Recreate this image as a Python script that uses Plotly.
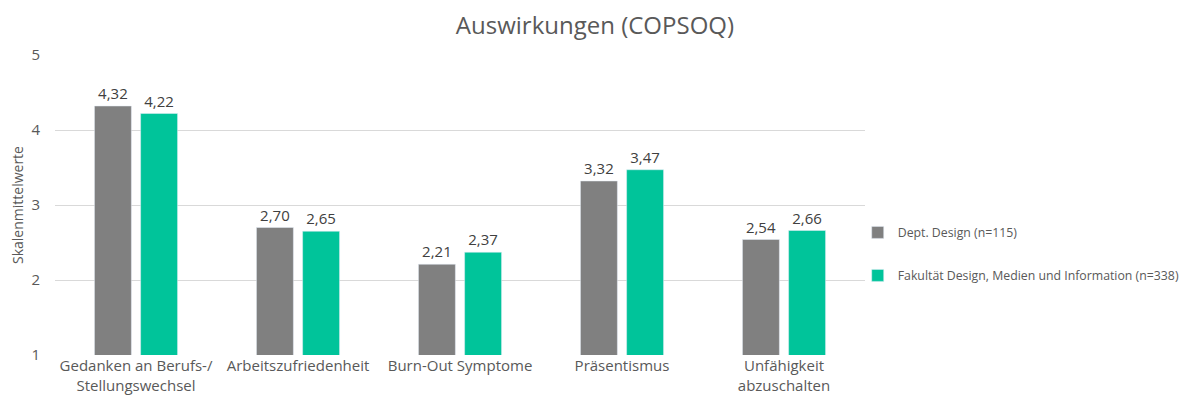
import plotly.graph_objects as go

categories = ["Gedanken an Berufs-/<br>Stellungswechsel", "Arbeitszufriedenheit", "Burn-Out Symptome",
              "Präsentismus", "Unfähigkeit<br>abzuschalten"]
dept_design = [4.32, 2.70, 2.21, 3.32, 2.54]
fakultaet = [4.22, 2.65, 2.37, 3.47, 2.66]
series_names = ["Dept. Design (n=115)", "Fakultät Design, Medien und Information (n=338)"]
colors = ["#808080", "#00c49a"]

FONT = "Open Sans"
fig = go.Figure()
for i, (name, vals) in enumerate(zip(series_names, [dept_design, fakultaet])):
    fig.add_trace(go.Bar(
        x=categories, y=vals, name=name, marker_color=colors[i],
        legendgroup=f"g{i}",
        text=[f"{v:.2f}".replace(".", ",") for v in vals],
        textposition="outside", cliponaxis=False,
        textfont=dict(size=15, color="#404040", family=FONT),
    ))

fig.update_layout(
    width=1181, height=401,
    margin=dict(l=47, r=324, t=47, b=54, autoexpand=False),
    paper_bgcolor="white", plot_bgcolor="white",
    font=dict(family=FONT, color="#595959"),
    title=dict(text="Auswirkungen (COPSOQ)", x=0.497, xanchor="center", y=0.978, yanchor="top",
               font=dict(size=24, color="#595959", family=FONT)),
    barmode="group", bargap=0.43, bargroupgap=0.2,
    legend=dict(x=0.991, xanchor="left", y=0.337, yanchor="middle", tracegroupgap=24,
                font=dict(size=12.3, color="#595959", family=FONT), bgcolor="rgba(0,0,0,0)"),
    showlegend=True,
)
fig.update_xaxes(showgrid=False, showline=False, ticks="", tickfont=dict(size=15, color="#595959"))
fig.update_yaxes(range=[1, 5], dtick=1, showgrid=True, gridcolor="#d9d9d9", zeroline=False,
                 showline=False, ticks="", ticklabelstandoff=14, tickfont=dict(size=15, color="#595959"),
                 title=dict(text="Skalenmittelwerte", font=dict(size=14, color="#595959"), standoff=8))
fig.write_html("out.html")
